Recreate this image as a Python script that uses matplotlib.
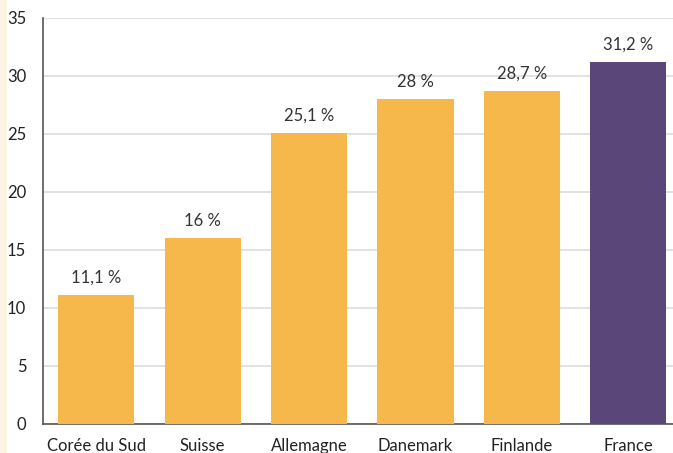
import matplotlib.pyplot as plt
import matplotlib.patches as mpatches

# Données
pays = ['Corée du Sud', 'Suisse', 'Allemagne', 'Danemark', 'Finlande', 'France']
valeurs = [11.1, 16, 25.1, 28, 28.7, 31.2]
etiquettes = ['11,1 %', '16 %', '25,1 %', '28 %', '28,7 %', '31,2 %']
couleurs = ['#F7B84B'] * 5 + ['#5B4679']

plt.rcParams['font.family'] = ['Lato', 'DejaVu Sans']

fig = plt.figure(figsize=(6.73, 4.53), dpi=100)
fig.patch.set_facecolor('white')
# bande crème à gauche
fig.patches.append(mpatches.Rectangle((0, 0), 7 / 673, 1, transform=fig.transFigure,
                                      facecolor='#FDF3E4', edgecolor='none', zorder=0))

ax = fig.add_axes([43 / 673, 29 / 453, 630 / 673, 406 / 453])
x = range(len(pays))
bars = ax.bar(x, valeurs, width=0.715, color=couleurs, zorder=3)

for i, b in enumerate(bars):
    ax.text(b.get_x() + b.get_width() / 2, b.get_height() + 0.8, etiquettes[i],
            ha='center', va='bottom', fontsize=12, color='#333333')

ax.set_ylim(0, 35)
ax.set_xlim(-0.5, 5.42)
ax.set_yticks(range(0, 36, 5))
ax.set_xticks(list(x))
ax.set_xticklabels(pays, fontsize=12, color='#222222')
ax.tick_params(axis='y', labelsize=12, colors='#222222', length=0, pad=12)
ax.tick_params(axis='x', length=0, pad=10)

ax.grid(axis='y', color='#DDDDDD', linewidth=1.2, zorder=0)
for s in ['top', 'right']:
    ax.spines[s].set_visible(False)
ax.spines['left'].set_color('#555555')
ax.spines['bottom'].set_color('#555555')
ax.spines['left'].set_linewidth(1.2)
ax.spines['bottom'].set_linewidth(1.2)

plt.savefig('out.png', dpi=100)
